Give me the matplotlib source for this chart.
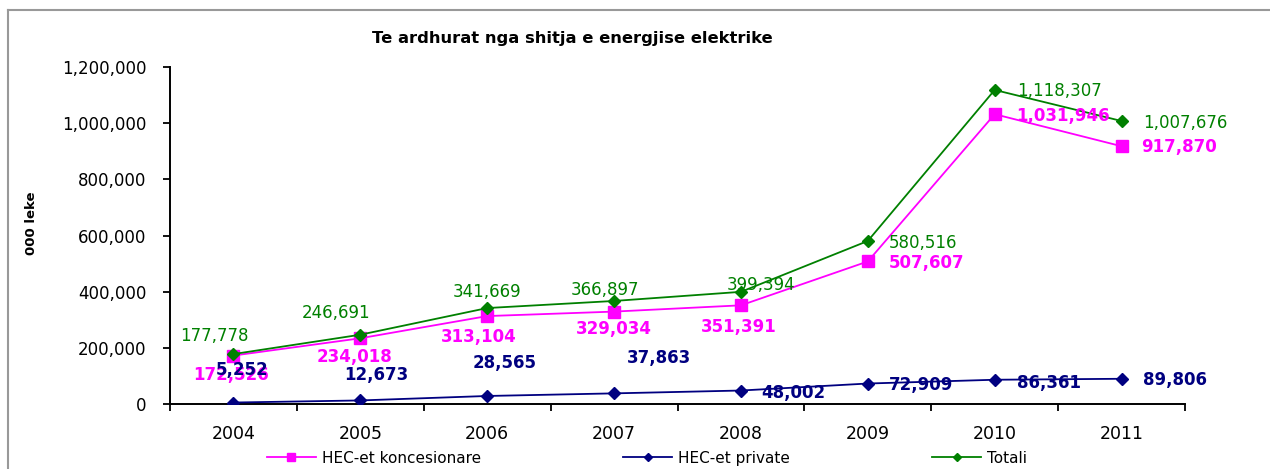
import matplotlib
matplotlib.use("Agg")
import matplotlib.pyplot as plt
from matplotlib.lines import Line2D
from matplotlib.ticker import FuncFormatter, FixedLocator

# data (000 leke)
years = ['2004', '2005', '2006', '2007', '2008', '2009', '2010', '2011']
koncesionare = [172526, 234018, 313104, 329034, 351391, 507607, 1031946, 917870]
private = [5252, 12673, 28565, 37863, 48002, 72909, 86361, 89806]
totali = [177778, 246691, 341669, 366897, 399394, 580516, 1118307, 1007676]

# label placement (pixels from marker, dy up) and alignment
off_tot = [(-19, 18, 'center'), (-24, 22, 'center'), (0, 16, 'center'), (-9, 11, 'center'),
           (-14, 7, 'left'), (21, -2, 'left'), (22, -1, 'left'), (22, -2, 'left')]
off_kon = [(-2, -19, 'center'), (-6, -19, 'center'), (-8, -21, 'center'), (0, -17, 'center'),
           (-2, -22, 'center'), (21, -2, 'left'), (22, -2, 'left'), (20, -1, 'left')]
off_pri = [(9, 33, 'center'), (16, 25, 'center'), (17, 33, 'center'), (45, 35, 'center'),
           (20, -2, 'left'), (21, -1, 'left'), (22, -3, 'left'), (21, -1, 'left')]

c_kon = '#FF00FF'
c_pri = '#000080'
c_tot = '#008000'

W, H = 1270, 469
fig = plt.figure(figsize=(W / 100, H / 100), dpi=100)
ax = fig.add_axes([170 / W, 1 - 404 / H, (1185 - 170) / W, (404 - 67) / H])

x = list(range(len(years)))
ax.plot(x, koncesionare, color=c_kon, lw=1.3, marker='s', ms=8, label='HEC-et koncesionare', zorder=3)
ax.plot(x, private, color=c_pri, lw=1.3, marker='D', ms=6.5, label='HEC-et private', zorder=3)
ax.plot(x, totali, color=c_tot, lw=1.3, marker='D', ms=6.5, label='Totali', zorder=4)


def put_labels(vals, offs, color, weight):
    for i, v in enumerate(vals):
        dx, dy, ha = offs[i]
        ax.annotate(f'{v:,}', (x[i], v), xytext=(dx, dy), textcoords='offset pixels',
                    ha=ha, va='center', color=color, fontsize=12, fontweight=weight,
                    zorder=5, annotation_clip=False)


put_labels(totali, off_tot, c_tot, 'normal')
put_labels(koncesionare, off_kon, c_kon, 'bold')
put_labels(private, off_pri, c_pri, 'bold')

ax.set_xlim(-0.5, len(years) - 0.5)
ax.set_ylim(0, 1200000)
ax.set_yticks(range(0, 1200001, 200000))
ax.yaxis.set_major_formatter(FuncFormatter(lambda v, p: f'{int(v):,}'))
ax.xaxis.set_major_locator(FixedLocator([i - 0.5 for i in range(len(years) + 1)]))
ax.set_xticklabels([])
ax.xaxis.set_minor_locator(FixedLocator(x))
ax.set_xticklabels(years, minor=True)
ax.tick_params(axis='x', which='minor', length=0, pad=15, labelsize=12.5)
ax.tick_params(axis='x', which='major', length=5, width=1.3, direction='out')
ax.tick_params(axis='y', length=5, width=1.3, direction='out', pad=12, labelsize=12)

for s in ['top', 'right']:
    ax.spines[s].set_visible(False)
for s in ['left', 'bottom']:
    ax.spines[s].set_linewidth(1.4)

ax.set_ylabel('000 leke', fontsize=9.5, fontweight='bold')
ax.yaxis.set_label_coords(-132 / (1185 - 170), (404 - 223) / (404 - 67))

fig.text(572 / W, 1 - 38 / H, 'Te ardhurat nga shitja e energjise elektrike',
         ha='center', va='center', fontsize=11.8, fontweight='bold')

fig.legend(loc='center left', bbox_to_anchor=(267 / W, 1 - 458 / H), ncol=3, frameon=False,
           fontsize=11, handlelength=3.2, handletextpad=0.4, columnspacing=9.3,
           borderaxespad=0, borderpad=0, markerscale=0.7)

# grey outer frame, cut off on the right and bottom like the original
fig.add_artist(Line2D([8 / W, 8 / W], [0, 1 - 10 / H], color='#999999', lw=1.5))
fig.add_artist(Line2D([8 / W, 1], [1 - 10 / H, 1 - 10 / H], color='#999999', lw=1.5))

fig.savefig('out.png', dpi=100)
